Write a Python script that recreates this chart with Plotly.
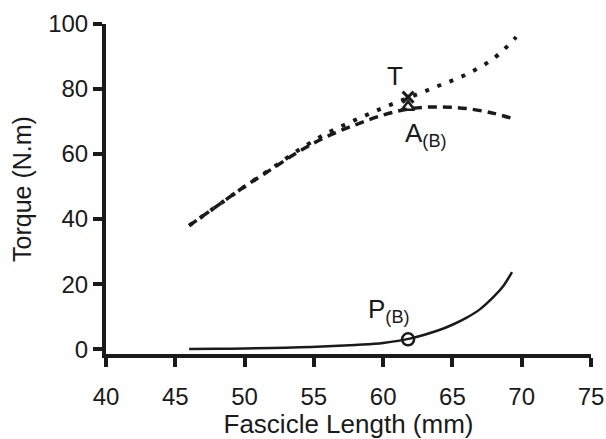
import plotly.graph_objects as go

# Fascicle length (mm) samples for each torque component
length_active = [46, 48, 50, 52, 54, 56, 58, 60, 62, 64, 66, 68, 69.5]
torque_active = [38, 44, 50, 55.5, 61, 65.5, 69, 72, 74, 74.5, 74, 72.5, 70.7]

length_total = [46, 48, 50, 52, 54, 56, 58, 60, 62, 64, 66, 68, 69.6]
torque_total = [38, 44, 50, 55.7, 61.5, 66.5, 70.5, 74.2, 77.6, 81, 84.5, 89.5, 96]

length_passive = [46, 48, 50, 52, 54, 56, 58, 60, 62, 64, 65, 66, 67, 68, 68.7, 69.3]
torque_passive = [0, 0.1, 0.2, 0.35, 0.55, 0.85, 1.3, 1.9, 3.3, 5.8, 7.5, 9.6, 12.3, 16.2, 19.6, 23.7]

# Operating point at L(B)
point_length = 61.8
point_total = 77.5
point_active = 74.5
point_passive = 3.0

x_ticks = [40, 45, 50, 55, 60, 65, 70, 75]
y_ticks = [0, 20, 40, 60, 80, 100]

FONT = "Liberation Sans, Arial, sans-serif"
INK = "#1a1a1a"

fig = go.Figure()

fig.add_trace(go.Scatter(
    x=length_active, y=torque_active, mode="lines",
    line=dict(color=INK, width=3.5, dash="9px,6px", shape="spline"),
))
fig.add_trace(go.Scatter(
    x=length_total, y=torque_total, mode="lines",
    line=dict(color=INK, width=4, dash="4px,9px", shape="spline"),
))
fig.add_trace(go.Scatter(
    x=length_passive, y=torque_passive, mode="lines",
    line=dict(color=INK, width=2.5, shape="spline"),
))

# Markers at the operating length
fig.add_trace(go.Scatter(
    x=[point_length], y=[point_total], mode="markers",
    marker=dict(symbol="x-thin-open", size=11, color=INK,
                line=dict(color=INK, width=3)),
))
fig.add_trace(go.Scatter(
    x=[point_length], y=[point_active], mode="markers",
    marker=dict(symbol="triangle-up-open", size=11, color=INK,
                line=dict(color=INK, width=2.5)),
))
fig.add_trace(go.Scatter(
    x=[point_length], y=[point_passive], mode="markers",
    marker=dict(symbol="circle-open", size=12, color=INK,
                line=dict(color=INK, width=2.5)),
))

fig.add_annotation(x=60.85, y=84, text="T", showarrow=False,
                   font=dict(family=FONT, size=26, color=INK))
fig.add_annotation(x=63.1, y=66, text="A<sub>(B)</sub>", showarrow=False,
                   font=dict(family=FONT, size=26, color=INK))
fig.add_annotation(x=60.4, y=12, text="P<sub>(B)</sub>", showarrow=False,
                   font=dict(family=FONT, size=26, color=INK))

axis_common = dict(
    showgrid=False, zeroline=False, showline=True, linecolor=INK, linewidth=4,
    ticks="outside", ticklen=9, tickwidth=4, tickcolor=INK, automargin=False,
    tickfont=dict(family=FONT, size=24, color=INK),
)

fig.update_xaxes(range=[40, 75], tickvals=x_ticks, ticklabelstandoff=9,
                 title=dict(text="Fascicle Length (mm)", standoff=11,
                            font=dict(family=FONT, size=26, color=INK)),
                 **axis_common)
fig.update_yaxes(range=[-1.5, 100], tickvals=y_ticks,
                 title=dict(text="Torque (N.m)", standoff=10,
                            font=dict(family=FONT, size=25, color=INK)),
                 **axis_common)

fig.update_layout(
    width=606, height=439,
    margin=dict(l=106, r=15, t=24, b=85),
    paper_bgcolor="white", plot_bgcolor="white",
    showlegend=False,
)

fig.write_html("out.html")
